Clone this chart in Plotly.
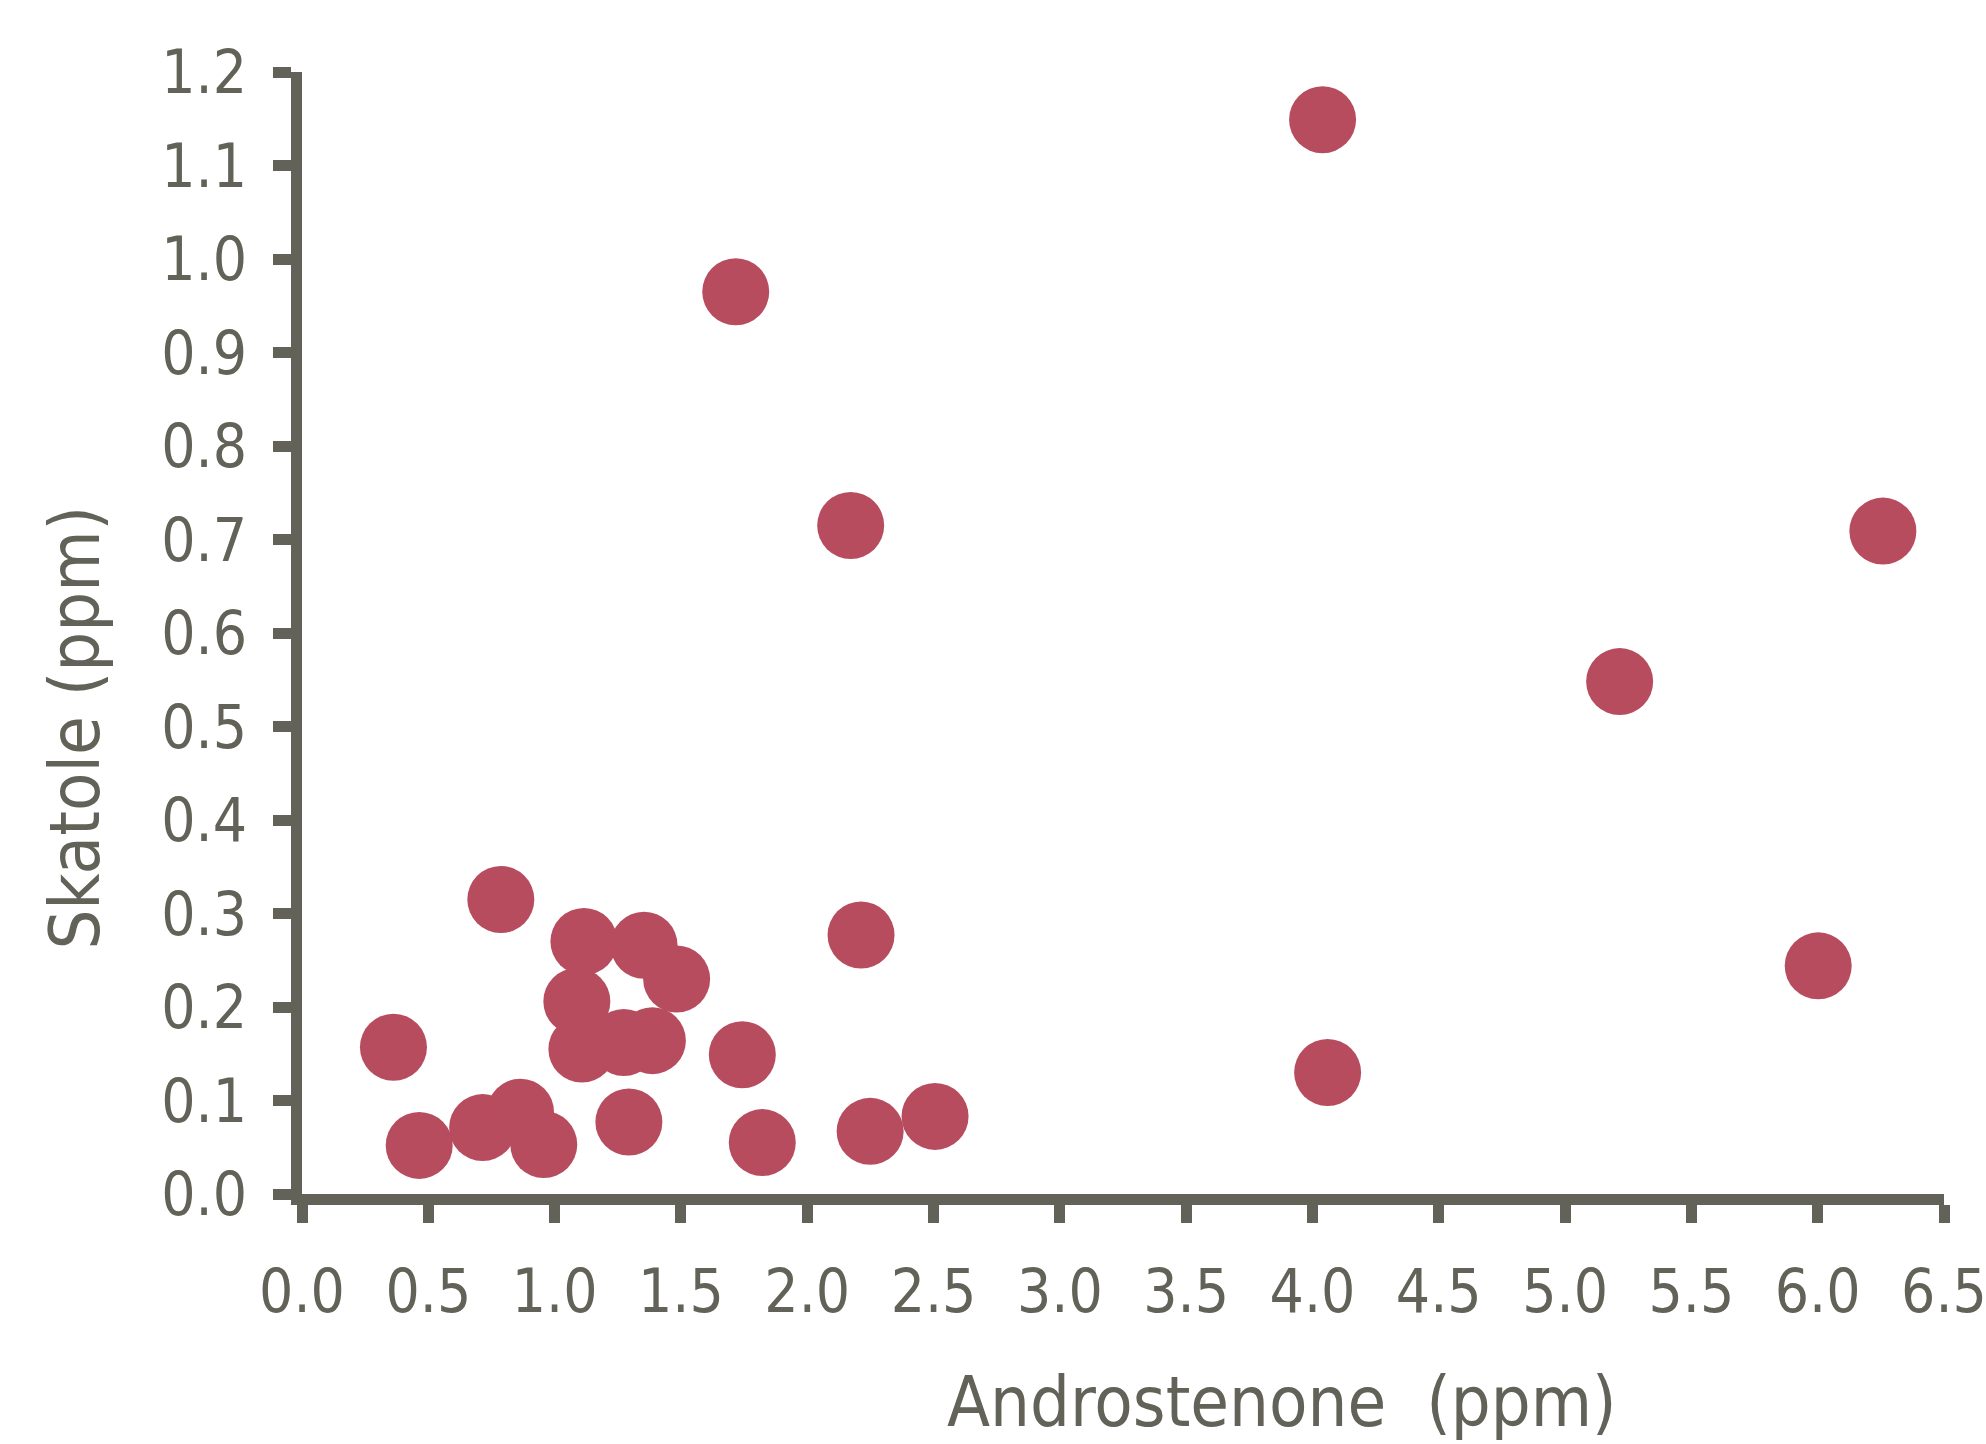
import plotly.graph_objects as go

# Data
androstenone = [0.362, 0.464, 0.715, 0.787, 0.865, 0.957, 1.088, 1.116, 1.108,
                1.274, 1.294, 1.354, 1.387, 1.483, 1.717, 1.743, 1.822, 2.172,
                2.213, 2.249, 2.506, 4.04, 4.06, 5.216, 6.002, 6.258]
skatole = [0.157, 0.052, 0.071, 0.315, 0.0875, 0.053, 0.206, 0.270, 0.155,
           0.162, 0.077, 0.266, 0.164, 0.230, 0.965, 0.149, 0.055, 0.715,
           0.277, 0.067, 0.083, 1.149, 0.130, 0.548, 0.244, 0.709]

x_ticks = [0.0, 0.5, 1.0, 1.5, 2.0, 2.5, 3.0, 3.5, 4.0, 4.5, 5.0, 5.5, 6.0, 6.5]
y_ticks = [0.0, 0.1, 0.2, 0.3, 0.4, 0.5, 0.6, 0.7, 0.8, 0.9, 1.0, 1.1, 1.2]

x_title = "Androstenone\u00a0\u00a0(ppm)"
y_title = "Skatole (ppm)"

AXIS = "#626258"
MARK = "#b84c5f"
FONT = "DejaVu Sans Condensed, DejaVu Sans"

fig = go.Figure(go.Scatter(
    x=androstenone, y=skatole, mode="markers",
    marker=dict(size=67, color=MARK, line=dict(width=0)),
    cliponaxis=False, showlegend=False,
))

axis_common = dict(
    showline=True, linecolor=AXIS, linewidth=11,
    ticks="outside", ticklen=18, tickwidth=11, tickcolor=AXIS,
    showgrid=False, zeroline=False, ticklabeloverflow="allow",
    automargin=False,
    tickfont=dict(family=FONT, size=60, color=AXIS),
)

fig.update_xaxes(range=[0, 6.5], tickvals=x_ticks,
                 ticktext=[f"{v:.1f}" for v in x_ticks],
                 ticklabelstandoff=17, **axis_common)
fig.update_yaxes(range=[0, 1.2], tickvals=y_ticks,
                 ticktext=[f"{v:.1f}" for v in y_ticks],
                 ticklabelstandoff=14, **axis_common)

fig.add_annotation(text=x_title, xref="paper", yref="paper",
                   x=0.5968, y=-0.224, xanchor="center", yanchor="bottom",
                   showarrow=False, font=dict(family=FONT, size=70, color=AXIS))
fig.add_annotation(text=y_title, xref="paper", yref="paper",
                   x=-0.1385, y=0.4153, xanchor="center", yanchor="middle",
                   textangle=-90,
                   showarrow=False, font=dict(family=FONT, size=70, color=AXIS))

fig.update_layout(
    width=1986, height=1444,
    margin=dict(l=302, r=42, t=72, b=250),
    paper_bgcolor="white", plot_bgcolor="white",
)

# remove the default page margin so the figure fills the window exactly
fig.write_html("out.html", config={"displayModeBar": False},
               post_script="document.body.style.margin='0';")
